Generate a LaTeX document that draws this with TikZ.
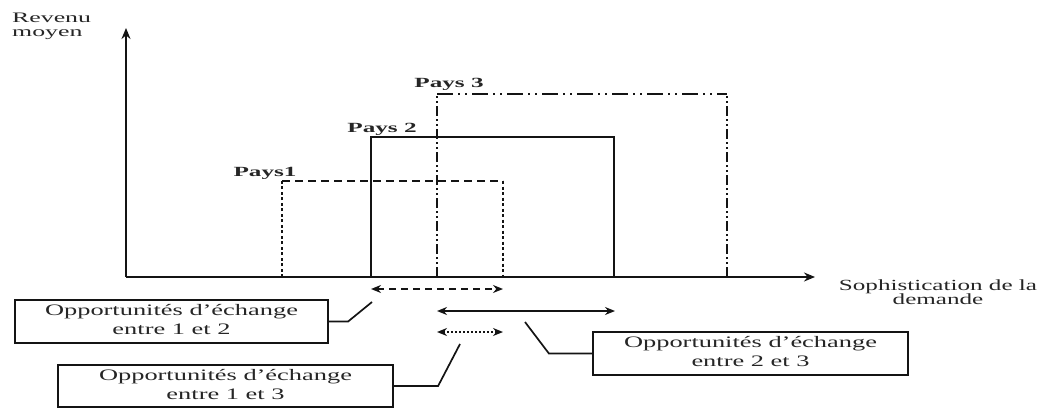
\documentclass[tikz,border=0pt]{standalone}
\usepackage{fontspec}
\setmainfont{Liberation Serif}
\usepackage{graphicx}
\usetikzlibrary{arrows.meta}
\definecolor{ink}{rgb}{0.08,0.08,0.08}
\definecolor{txt}{rgb}{0.15,0.15,0.15}
\newcommand{\sx}[2]{\scalebox{#1}[1]{#2}}
\tikzset{
  axis/.style={draw=ink, line width=1.9pt, -{Stealth[length=11pt,width=9pt]}},
  cbox/.style={draw=ink, line width=2.2pt, inner sep=0pt, text=txt,
    font=\fontsize{16}{19}\selectfont},
  plabel/.style={inner sep=0pt, anchor=base, text=txt, font=\fontsize{14}{14}\selectfont\bfseries},
  alabel/.style={inner sep=0pt, text=txt},
  pays/.style={draw=ink, line width=2.4pt},
  opp/.style={draw=ink, line width=1.7pt, {Stealth[length=10pt,width=8pt]}-{Stealth[length=10pt,width=8pt]}},
  conn/.style={draw=ink, line width=1.7pt},
}
\begin{document}
\begin{tikzpicture}[x=1pt,y=-1pt]
\useasboundingbox (0,0) rectangle (1060,409);
% axes
\coordinate (O) at (126,277);
\coordinate (Ytip) at (126,28);
\coordinate (Xtip) at (815,277);
\draw[axis] (O) -- (Ytip);
\draw[axis] (O) -- (Xtip);
\node[alabel, anchor=west, font=\fontsize{14.5}{14}\selectfont] (ylab) at (12,27.2)
  {\sx{1.78}{\begin{tabular}{@{}l@{}}Revenu\\moyen\end{tabular}}};
\node[alabel, anchor=center, font=\fontsize{15.5}{13}\selectfont] (xlab) at (938,294)
  {\sx{1.62}{\begin{tabular}{@{}c@{}}Sophistication de la\\demande\end{tabular}}};
% Pays 1
\coordinate (p1a) at (282,277); \coordinate (p1b) at (282,181);
\coordinate (p1c) at (503,181); \coordinate (p1d) at (503,277);
\draw[pays, dash pattern=on 3pt off 2.5pt] (p1a) -- (p1b);
\draw[pays, dash pattern=on 8pt off 5pt] (p1b) -- (p1c);
\draw[pays, dash pattern=on 3pt off 2.5pt] (p1c) -- (p1d);
% Pays 2
\coordinate (p2a) at (371,277); \coordinate (p2b) at (371,137);
\coordinate (p2c) at (614,137); \coordinate (p2d) at (614,277);
\draw[pays] (p2a) -- (p2b) -- (p2c) -- (p2d);
% Pays 3
\coordinate (p3a) at (437,277); \coordinate (p3b) at (437,94);
\coordinate (p3c) at (727,94); \coordinate (p3d) at (727,277);
\draw[pays, dash pattern=on 10pt off 3pt on 2pt off 3pt on 2pt off 3pt] (p3a) -- (p3b);
\draw[pays, dash pattern=on 16pt off 5pt on 2pt off 5pt on 2pt off 5pt] (p3b) -- (p3c);
\draw[pays, dash pattern=on 10pt off 3pt on 2pt off 3pt on 2pt off 3pt] (p3d) -- (p3c);
% labels
\node[plabel] (l1) at (265,176) {\sx{1.8}{Pays1}};
\node[plabel] (l2) at (382,133) {\sx{1.8}{Pays 2}};
\node[plabel] (l3) at (449,88) {\sx{1.8}{Pays 3}};
% opportunity arrows
\coordinate (a12l) at (371,289); \coordinate (a12r) at (503,289);
\coordinate (a23l) at (437,311); \coordinate (a23r) at (615,311);
\coordinate (a13l) at (437,332); \coordinate (a13r) at (503,332);
\draw[opp, dash pattern=on 7pt off 5pt] (a12l) -- (a12r);
\draw[opp] (a23l) -- (a23r);
\draw[opp, dash pattern=on 2pt off 2pt] (a13l) -- (a13r);
% boxes
\node[cbox, minimum width=313pt, minimum height=43pt] (b12) at (171.5,321.5)
  {\sx{1.65}{\begin{tabular}{@{}c@{}}Opportunités d'échange\\entre 1 et 2\end{tabular}}};
\node[cbox, minimum width=335pt, minimum height=42pt] (b13) at (225.5,386)
  {\sx{1.65}{\begin{tabular}{@{}c@{}}Opportunités d'échange\\entre 1 et 3\end{tabular}}};
\node[cbox, minimum width=315pt, minimum height=43pt] (b23) at (750.5,353.5)
  {\sx{1.65}{\begin{tabular}{@{}c@{}}Opportunités d'échange\\entre 2 et 3\end{tabular}}};
% connectors
\coordinate (c12) at (372,302);
\coordinate (c13) at (460,344);
\coordinate (c23) at (525,322);
\draw[conn] (b12.east) -- ++(19,0) -- (c12);
\draw[conn] (b13.east) -- ++(44,0) -- (c13);
\draw[conn] (b23.west) -- ++(-43,0) -- (c23);
\end{tikzpicture}
\end{document}
